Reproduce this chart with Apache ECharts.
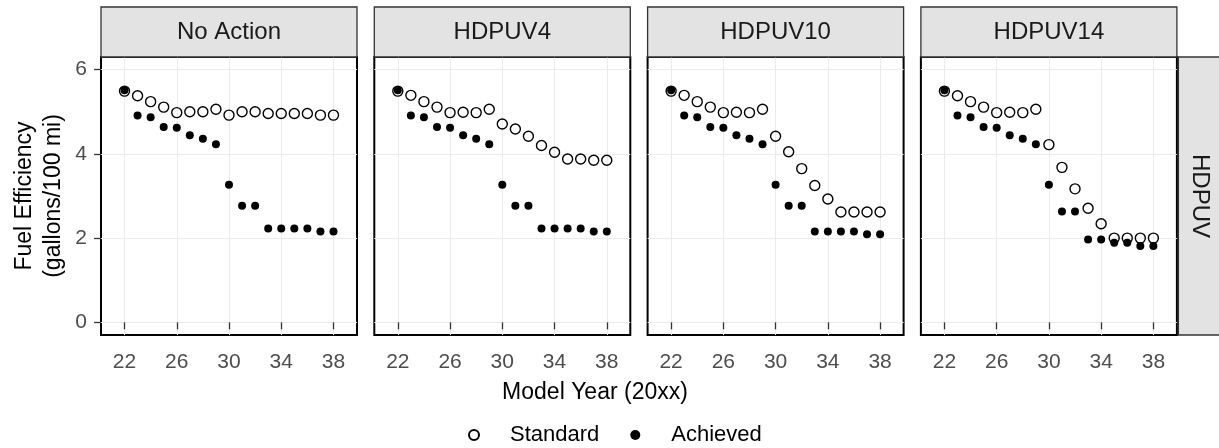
<!DOCTYPE html>
<html>
<head>
<meta charset="utf-8">
<script src="https://cdn.jsdelivr.net/npm/echarts@6/dist/echarts.min.js"></script>
<style>
html,body{margin:0;padding:0;background:#fff;}
#chart{width:1219px;height:448px;}
</style>
</head>
<body>
<div id="chart"></div>
<script>
// ---- data ----
const panels = ['No Action', 'HDPUV4', 'HDPUV10', 'HDPUV14'];
const rowLabel = 'HDPUV';
const years = [22, 23, 24, 25, 26, 27, 28, 29, 30, 31, 32, 33, 34, 35, 36, 37, 38];
const xTicks = [22, 26, 30, 34, 38];
const yTicks = [0, 2, 4, 6];

const standardNoAction = [5.49, 5.38, 5.24, 5.11, 4.98, 5.00, 5.00, 5.06, 4.92, 5.00, 5.00, 4.96, 4.96, 4.96, 4.96, 4.92, 4.92];
const achievedNoAction = [5.51, 4.91, 4.87, 4.64, 4.62, 4.44, 4.36, 4.23, 3.27, 2.77, 2.77, 2.23, 2.23, 2.23, 2.23, 2.16, 2.16];
const standardHDPUV4 = [5.49, 5.39, 5.24, 5.11, 4.98, 4.99, 4.98, 5.06, 4.71, 4.59, 4.42, 4.20, 4.04, 3.88, 3.88, 3.85, 3.85];
const achievedHDPUV4 = [5.51, 4.91, 4.87, 4.64, 4.62, 4.44, 4.36, 4.23, 3.27, 2.77, 2.77, 2.23, 2.23, 2.23, 2.23, 2.16, 2.16];
const standardHDPUV10 = [5.49, 5.39, 5.24, 5.11, 4.98, 4.99, 4.98, 5.06, 4.42, 4.05, 3.65, 3.25, 2.93, 2.62, 2.62, 2.62, 2.62];
const achievedHDPUV10 = [5.51, 4.91, 4.87, 4.64, 4.62, 4.44, 4.36, 4.23, 3.27, 2.77, 2.77, 2.16, 2.16, 2.16, 2.16, 2.09, 2.09];
const standardHDPUV14 = [5.49, 5.38, 5.24, 5.11, 4.98, 4.99, 4.98, 5.06, 4.22, 3.68, 3.17, 2.71, 2.34, 2.00, 2.00, 2.00, 2.00];
const achievedHDPUV14 = [5.51, 4.91, 4.87, 4.64, 4.62, 4.44, 4.36, 4.23, 3.27, 2.63, 2.63, 1.97, 1.97, 1.89, 1.89, 1.81, 1.81];

const standardSets = [standardNoAction, standardHDPUV4, standardHDPUV10, standardHDPUV14];
const achievedSets = [achievedNoAction, achievedHDPUV4, achievedHDPUV10, achievedHDPUV14];

// ---- layout ----
const FONT = "'Liberation Sans', Arial, sans-serif";
const PL = 101, PW = 256, PSTEP = 273.3, PT = 57, PH = 278, STRIP_TOP = 7;

const chart = echarts.init(document.getElementById('chart'), null, {renderer: 'canvas'});

const grids = [], xAxes = [], yAxes = [], series = [], graphics = [];
panels.forEach((name, i) => {
  const left = PL + i * PSTEP;
  grids.push({left: left, top: PT, width: PW, height: PH, show: true,
    backgroundColor: '#fff', borderColor: '#000', borderWidth: 2, containLabel: false});
  xAxes.push({
    type: 'value', gridIndex: i, min: 20.2, max: 39.8,
    axisLine: {show: false},
    axisTick: {show: true, length: 7, customValues: xTicks, lineStyle: {color: '#333', width: 1.3}},
    axisLabel: {customValues: xTicks, fontSize: 21, color: '#4d4d4d', margin: 17, fontFamily: FONT},
    splitLine: {show: true, lineStyle: {color: '#ebebeb', width: 1}}
  });
  yAxes.push({
    type: 'value', gridIndex: i, min: -0.3, max: 6.3,
    axisLine: {show: false},
    axisTick: {show: i === 0, length: 7, customValues: yTicks, lineStyle: {color: '#333', width: 1.3}},
    axisLabel: {show: i === 0, customValues: yTicks, fontSize: 21, color: '#4d4d4d', margin: 14, fontFamily: FONT},
    splitLine: {show: true, lineStyle: {color: '#ebebeb', width: 1}},
    name: i === 0 ? 'Fuel Efficiency\n(gallons/100 mi)' : '',
    nameLocation: 'middle', nameGap: 33,
    nameTextStyle: {fontSize: 23, color: '#000', fontFamily: FONT, lineHeight: 29}
  });
  series.push({
    name: 'Standard', type: 'scatter', xAxisIndex: i, yAxisIndex: i,
    data: years.map((y, k) => [y, standardSets[i][k]]),
    symbol: 'circle', symbolSize: 10,
    itemStyle: {color: 'rgba(255,255,255,0)', borderColor: '#000', borderWidth: 1.4, opacity: 1},
    emphasis: {disabled: true}, z: 3
  });
  series.push({
    name: 'Achieved', type: 'scatter', xAxisIndex: i, yAxisIndex: i,
    data: years.map((y, k) => [y, achievedSets[i][k]]),
    symbol: 'circle', symbolSize: 8,
    itemStyle: {color: '#000', opacity: 1},
    emphasis: {disabled: true}, z: 2
  });
  // strip on top
  graphics.push({
    type: 'rect', shape: {x: left, y: STRIP_TOP, width: PW, height: PT - STRIP_TOP},
    style: {fill: '#e3e3e3', stroke: '#333', lineWidth: 1.3}, z: 10
  });
  graphics.push({
    type: 'text', x: left + PW / 2, y: STRIP_TOP + (PT - STRIP_TOP) / 2,
    style: {text: name, font: '24px ' + FONT, fill: '#1a1a1a', align: 'center', verticalAlign: 'middle'}, z: 11
  });
});

// right strip
const rsLeft = PL + 3 * PSTEP + PW + 1.5;
graphics.push({
  type: 'rect', shape: {x: rsLeft, y: PT, width: 1219 - rsLeft + 2, height: PH},
  style: {fill: '#e3e3e3', stroke: '#333', lineWidth: 1.3}, z: 10
});
graphics.push({
  type: 'text', x: rsLeft + 21, y: PT + PH / 2, rotation: -Math.PI / 2,
  style: {text: rowLabel, font: '24px ' + FONT, fill: '#1a1a1a', align: 'center', verticalAlign: 'middle'}, z: 11
});
// x axis title
graphics.push({
  type: 'text', x: 595, y: 393,
  style: {text: 'Model Year (20xx)', font: '23px ' + FONT, fill: '#000', align: 'center', verticalAlign: 'middle'}, z: 11
});

chart.setOption({
  animation: false,
  backgroundColor: '#fff',
  grid: grids,
  xAxis: xAxes,
  yAxis: yAxes,
  series: series,
  legend: {
    data: ['Standard', 'Achieved'],
    left: 463, top: 419,
    itemWidth: 10, itemHeight: 10, itemGap: 31,
    textStyle: {fontSize: 22, color: '#000', fontFamily: FONT, padding: [0, 0, 0, 26]}
  },
  graphic: graphics
});
</script>
</body>
</html>
